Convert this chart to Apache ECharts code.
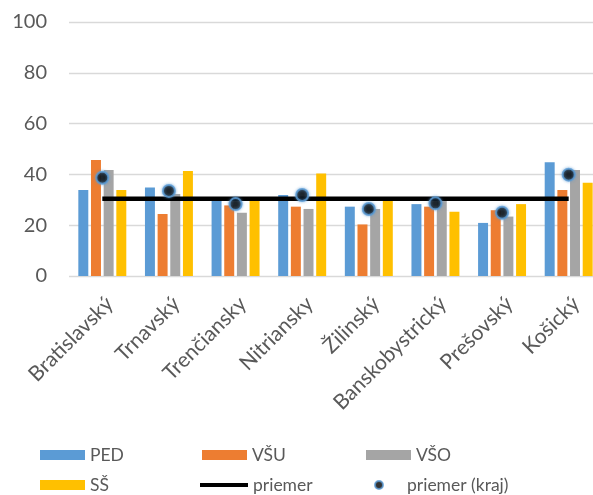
<!DOCTYPE html>
<html><head><meta charset="utf-8">
<script src="https://cdn.jsdelivr.net/npm/echarts@6/dist/echarts.min.js"></script>
<style>html,body{margin:0;padding:0;background:#fff}#c{width:593px;height:495px}</style>
</head><body><div id="c"></div>
<script>
const categories = ['Bratislavský','Trnavský','Trenčiansky','Nitriansky','Žilinský','Banskobystrický','Prešovský','Košický'];
const PED = [33.9, 34.8, 30.8, 31.9, 27.3, 28.3, 20.9, 44.8];
const VSU = [45.7, 24.4, 27.8, 27.3, 20.3, 27.3, 25.9, 33.9];
const VSO = [41.7, 32.3, 24.9, 26.4, 26.4, 29.5, 23.4, 41.7];
const SS  = [33.9, 41.3, 30.6, 40.4, 30.5, 25.3, 28.3, 36.7];
const priemer = [30.4, 30.4, 30.4, 30.4, 30.4, 30.4, 30.4, 30.4];
const priemerKraj = [38.7, 33.5, 28.3, 31.9, 26.4, 28.6, 24.9, 39.9];
const yTicks = [0, 20, 40, 60, 80, 100];

const FONT = 'Lato';
const TXT = '#595959';
const chart = echarts.init(document.getElementById('c'), null, {renderer:'canvas'});
function leg(name, left, top, extra) {
  return Object.assign({
    data:[name], left:left, top:top, orient:'horizontal',
    itemWidth:45, itemHeight:10, itemGap:0, icon:'rect',
    textStyle:{fontFamily:FONT, fontSize:17.5, color:TXT},
    padding:0
  }, extra||{});
}
const barCommon = {type:'bar', barGap:'27%', barCategoryGap:'28%'};
chart.setOption({
  animation:false,
  grid:{left:69, width:533, top:22, bottom:219, containLabel:false, outerBoundsMode:'none'},
  legend:[
    leg('PED', 40, 446),
    leg('VŠU', 202, 446),
    leg('VŠO', 366, 446),
    leg('SŠ', 40, 476),
    leg('priemer', 200, 476, {itemWidth:48, itemHeight:4}),
    leg('priemer (kraj)', 374, 476, {icon:'circle', itemWidth:26, itemHeight:8,
      textStyle:{fontFamily:FONT, fontSize:17.5, color:TXT, padding:[0,0,0,10]}})
  ],
  xAxis:{type:'category', data:categories, boundaryGap:true,
    axisLine:{show:false}, axisTick:{show:false},
    axisLabel:{rotate:45, interval:0, margin:17, verticalAlign:'top', fontFamily:FONT, fontSize:21, color:TXT}},
  yAxis:{type:'value', min:yTicks[0], max:yTicks[yTicks.length-1], interval:20,
    axisLine:{show:false}, axisTick:{show:false},
    axisLabel:{margin:22, fontFamily:FONT, fontSize:20, color:TXT},
    splitLine:{lineStyle:{color:'#D9D9D9', width:1.3}}},
  series:[
    Object.assign({name:'PED', data:PED, itemStyle:{color:'#5B9BD5'}}, barCommon),
    Object.assign({name:'VŠU', data:VSU, itemStyle:{color:'#ED7D31'}}, barCommon),
    Object.assign({name:'VŠO', data:VSO, itemStyle:{color:'#A5A5A5'}}, barCommon),
    Object.assign({name:'SŠ', data:SS, itemStyle:{color:'#FFC000'}}, barCommon),
    {name:'priemer', type:'line', data:priemer, symbol:'none', z:5,
      lineStyle:{color:'#000', width:4.5}, itemStyle:{color:'#000'}},
    {name:'priemer (kraj)', type:'scatter', data:priemerKraj, symbol:'circle', symbolSize:12, z:6,
      itemStyle:{color:'#000', borderColor:'#5B9BD5', borderWidth:2, shadowColor:'rgba(91,155,213,0.8)', shadowBlur:3}}
  ]
});
</script></body></html>
